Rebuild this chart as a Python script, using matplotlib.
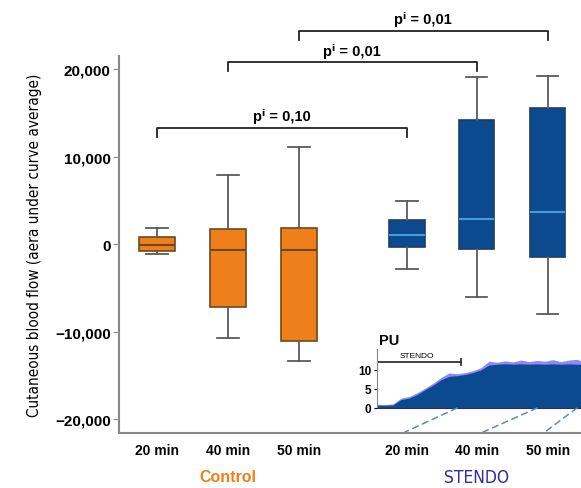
# Box plot of cutaneous blood flow, Control vs STENDO, with PU inset trace

import matplotlib.pyplot as plt
from matplotlib.patches import ConnectionPatch

plt.rcParams['font.family'] = ['Liberation Sans', 'DejaVu Sans']

# data:
times = ["20 min", "40 min", "50 min"]
positions = [1, 2, 3, 4.52, 5.5, 6.5]
whis_lo = [-1150, -10740, -13400, -2850, -6060, -8000]
q1 = [-800, -7160, -11050, -340, -570, -1490]
med = [-80, -690, -690, 1000, 2860, 3690]
q3 = [800, 1700, 1830, 2740, 14200, 15620]
whis_hi = [1830, 7900, 11100, 4950, 19160, 19280]

# comparisons: (left box, right box, bracket height, label)
brackets = [(0, 3, 13300, "pⁱ = 0,10"),
            (1, 4, 20800, "pⁱ = 0,01"),
            (2, 5, 24400, "pⁱ = 0,01")]

# inset trace (perfusion units vs minutes)
pu_t = [0, 2, 4, 6, 8, 10, 12, 14, 16, 18, 20, 22, 24, 26, 28, 30, 32, 34,
        36, 38, 40, 42, 44, 46, 48, 50, 51]
pu_val = [0.7, 0.7, 0.8, 2.2, 2.6, 3.5, 4.8, 6.0, 7.4, 8.3, 8.5, 8.8, 9.3,
          10.0, 11.3, 11.5, 11.6, 11.5, 11.6, 11.5, 11.6, 11.5, 11.6, 11.5,
          11.6, 11.5, 11.5]
pu_peak = [1.0, 0.9, 1.1, 2.6, 3.0, 4.0, 5.2, 6.5, 8.0, 9.2, 9.0, 9.3, 9.8,
           10.6, 12.3, 12.0, 12.4, 12.1, 12.6, 12.2, 12.5, 12.3, 12.7, 12.2,
           12.6, 12.8, 12.4]
pu_links = [20, 40, 50]
link_x = [4.49, 5.59, 6.46]

orange = "#EF7F1A"
blue = "#0B4A8F"

fig = plt.figure(figsize=(5.81, 4.89), dpi=100)
ax = fig.add_axes([0.2048, 0.1125, 0.7952, 0.7706])

stats = []
for i in range(6):
    stats.append({"med": med[i], "q1": q1[i], "q3": q3[i],
                  "whislo": whis_lo[i], "whishi": whis_hi[i], "fliers": []})

bp = ax.bxp(stats, positions=positions, widths=0.5, patch_artist=True,
            showfliers=False, manage_ticks=False,
            whiskerprops=dict(color="#5a5a5a", lw=1.3),
            capprops=dict(color="#5a5a5a", lw=1.3))
for i, box in enumerate(bp["boxes"]):
    if i < 3:
        box.set_facecolor(orange)
        box.set_edgecolor("#6b4a20")
        bp["medians"][i].set_color("#6b4a20")
    else:
        box.set_facecolor(blue)
        box.set_edgecolor("#203c66")
        bp["medians"][i].set_color("#4a9ad8")
    box.set_linewidth(1.2)
    bp["medians"][i].set_linewidth(1.5)
for cap in bp["caps"]:
    x0, x1 = cap.get_xdata()
    c = (x0 + x1) / 2
    cap.set_xdata([c - 0.15, c + 0.15])

ax.set_xlim(0.465, 6.97)
ax.set_ylim(-21600, 21500)
ax.set_yticks([-20000, -10000, 0, 10000, 20000])
ax.set_yticklabels(["\u221220,000", "\u221210,000", "0", "10,000", "20,000"],
                   fontweight="bold", fontsize=11)
ax.set_xticks(positions)
ax.set_xticklabels(times + times, fontweight="bold", fontsize=10)
ax.tick_params(axis="x", length=0, pad=7)
ax.tick_params(axis="y", length=4, color="#888888", pad=2)
for s in ["top", "right"]:
    ax.spines[s].set_visible(False)
for s in ["left", "bottom"]:
    ax.spines[s].set_color("#888888")
    ax.spines[s].set_linewidth(1.5)

ax.set_ylabel("Cutaneous blood flow (aera under curve average)",
              family="DejaVu Sans", fontstretch="condensed", fontsize=11,
              labelpad=9)

# significance brackets
for a, b, h, lab in brackets:
    xa, xb = positions[a], positions[b]
    ax.plot([xa, xa, xb, xb], [h - 1000, h, h, h - 1000], color="#222222",
            lw=1.3, clip_on=False)
    ax.text((xa + xb) / 2, h + 500, lab, ha="center", va="bottom",
            fontweight="bold", fontsize=10.5)

# group labels
fig.text(228 / 581, 1 - 478 / 489, "Control", color=orange, fontweight="bold",
         fontsize=11.5, ha="center", va="center")
fig.text(477 / 581, 1 - 478 / 489, "STENDO", color="#2e2ea6", fontsize=12.5,
         family="DejaVu Sans", fontstretch="condensed",
         ha="center", va="center")

# inset
ins = fig.add_axes([377 / 581, 80 / 489, 204 / 581, 59 / 489])
ins.fill_between(pu_t, 0, pu_peak, color="#8a8aff", lw=0)
ins.fill_between(pu_t, 0, pu_val, color=blue, lw=0)
ins.set_xlim(0, 51)
ins.set_ylim(0, 15.5)
ins.set_yticks([0, 5, 10])
ins.set_yticklabels(["0", "5", "10"], fontweight="bold", fontsize=8.5)
ins.set_xticks([])
ins.tick_params(axis="y", length=2, pad=2)
ins.patch.set_alpha(0)
for s in ["top", "right"]:
    ins.spines[s].set_visible(False)
ins.spines["left"].set_color("#888888")
ins.spines["bottom"].set_color("#333333")
ins.plot([0, 21], [12.2, 12.2], color="#333333", lw=1.3)
ins.plot([21, 21], [11.4, 13.0], color="#333333", lw=1.3)
ins.text(10, 12.8, "STENDO", fontsize=6, ha="center", va="bottom")
ins.text(0.5, 16, "PU", fontweight="bold", fontsize=10.5, ha="left",
         va="bottom")

for t, xb in zip(pu_links, link_x):
    con = ConnectionPatch(xyA=(t, 0), coordsA=ins.transData,
                          xyB=(xb, -21500), coordsB=ax.transData,
                          ls=(0, (4, 3)), color="#5a8ac6", lw=1.1)
    fig.add_artist(con)

fig.savefig("out.png", dpi=100)
